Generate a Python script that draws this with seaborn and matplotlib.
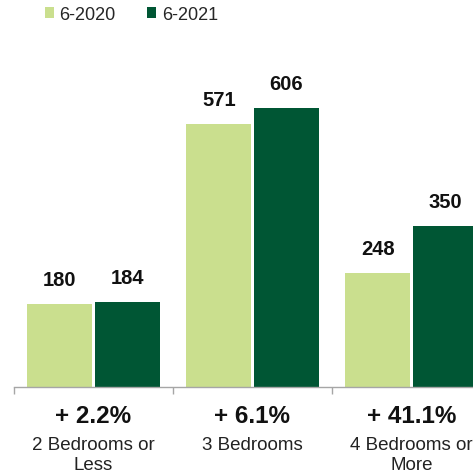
import matplotlib
matplotlib.use("Agg")
import matplotlib.pyplot as plt
import seaborn as sns
import pandas as pd

categories = ["2 Bedrooms or\nLess", "3 Bedrooms", "4 Bedrooms or\nMore"]
periods = ["6-2020", "6-2021"]
values_2020 = [180, 571, 248]
values_2021 = [184, 606, 350]
growth = ["+ 2.2%", "+ 6.1%", "+ 41.1%"]
colors = ["#CADF8E", "#005634"]

df = pd.DataFrame({
    "category": categories * 2,
    "period": [periods[0]] * 3 + [periods[1]] * 3,
    "value": values_2020 + values_2021,
})

sns.set_style("white")
plt.rcParams["font.family"] = ["Liberation Sans", "DejaVu Sans"]

fig = plt.figure(figsize=(4.73, 4.77), dpi=100)
ax = fig.add_axes([14 / 473, 89 / 477, 477 / 473, 313 / 477])

sns.barplot(data=df, x="category", y="value", hue="period", palette=colors,
            saturation=1, width=0.85, gap=0.04, linewidth=0, ax=ax, legend=True)

for c in ax.containers:
    ax.bar_label(c, padding=11, fontsize=14.5, fontweight="bold", color="#111111")

ax.set_xlim(-0.5, 2.5)
ax.set_ylim(0, 680)
ax.set_xlabel("")
ax.set_ylabel("")
ax.set_yticks([])
ax.set_xticks([-0.5, 0.5, 1.5, 2.5])
ax.set_xticklabels([])
ax.tick_params(axis="x", length=5, width=1, color="#A6A6A6", bottom=True)
sns.despine(ax=ax, left=True)
ax.spines["bottom"].set_color("#A6A6A6")
ax.spines["bottom"].set_linewidth(1)

for i, (cat, g) in enumerate(zip(categories, growth)):
    ax.annotate(g, xy=(i, 0), xycoords=("data", "axes fraction"),
                xytext=(0, -17), textcoords="offset pixels",
                ha="center", va="top", fontsize=17.5, fontweight="bold", color="#111111")
    ax.annotate(cat, xy=(i, 0), xycoords=("data", "axes fraction"),
                xytext=(0, -49), textcoords="offset pixels",
                ha="center", va="top", fontsize=13.5, color="#222222", linespacing=1.2)

handles, labels = ax.get_legend_handles_labels()
ax.get_legend().remove()
fig.legend(handles, labels, loc="upper left", bbox_to_anchor=(45 / 473, 1 - 7 / 477),
           ncol=2, frameon=False, fontsize=13, handlelength=0.5, handleheight=0.5,
           handletextpad=0.3, columnspacing=1.75, borderpad=0, borderaxespad=0)

fig.savefig("out.png", dpi=100)
